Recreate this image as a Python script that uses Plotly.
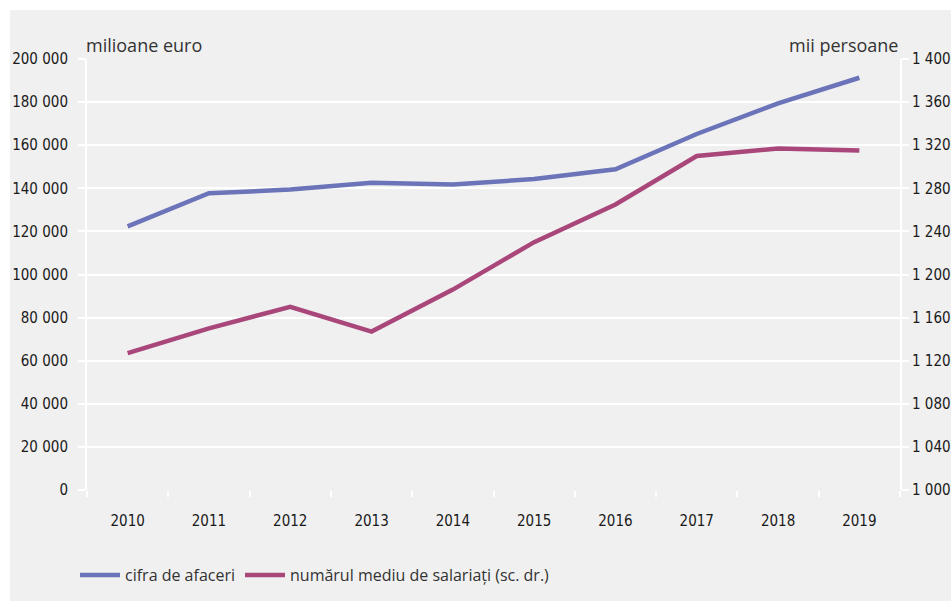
import plotly.graph_objects as go

years = ["2010", "2011", "2012", "2013", "2014", "2015", "2016", "2017", "2018", "2019"]
cifra_afaceri = [122300, 137700, 139400, 142600, 141800, 144300, 148800, 165200, 179400, 191300]
numar_salariati = [1127, 1150, 1170, 1147, 1186, 1230, 1265, 1310, 1317, 1315]

left_ticks = [0, 20000, 40000, 60000, 80000, 100000, 120000, 140000, 160000, 180000, 200000]
right_ticks = [1000, 1040, 1080, 1120, 1160, 1200, 1240, 1280, 1320, 1360, 1400]

W, H = 951, 601
L, R, T, B = 87, 51, 59, 111
pw, ph = W - L - R, H - T - B

def px(x):
    return (x - L) / pw

def py(y):
    return (H - B - y) / ph

tick_font = dict(family="DejaVu Sans Condensed, Liberation Sans Narrow, Roboto Condensed, sans-serif", size=15, color="#1a1a1a")
text_font = dict(family="Open Sans, Noto Sans, sans-serif", size=18, color="#333333")

fig = go.Figure()
fig.add_trace(go.Scatter(x=years, y=cifra_afaceri, mode="lines", name="cifra de afaceri",
                         line=dict(color="#6b73b9", width=4.5)))
fig.add_trace(go.Scatter(x=years, y=numar_salariati, mode="lines", name="numărul mediu de salariați (sc. dr.)",
                         line=dict(color="#a9477b", width=4.5), yaxis="y2"))

fig.update_layout(
    width=W, height=H,
    margin=dict(l=L, r=R, t=T, b=B, autoexpand=False),
    paper_bgcolor="white",
    plot_bgcolor="rgba(0,0,0,0)",
    separators=", ",
    shapes=[dict(type="rect", xref="paper", yref="paper", layer="below",
                 x0=px(10), x1=px(W + 20), y0=py(H + 20), y1=py(10),
                 fillcolor="#f0f0f0", line=dict(width=0))],
    xaxis=dict(type="category", range=[-0.5, len(years) - 0.5], tickson="boundaries",
               ticks="outside", ticklen=6, automargin=False,
               tickcolor="white", tickwidth=2, showgrid=False, zeroline=False,
               showline=False, tickfont=tick_font, ticklabelstandoff=20),
    yaxis=dict(range=[0, 200000], tickvals=left_ticks, tickformat=",d", automargin=False,
               showgrid=True, gridcolor="white", gridwidth=2, zeroline=False,
               ticks="outside", ticklen=7, tickcolor="white", tickwidth=2,
               showline=True, linecolor="white", linewidth=2,
               tickfont=tick_font, ticklabelstandoff=7),
    yaxis2=dict(range=[1000, 1400], tickvals=right_ticks, tickformat=",d", automargin=False,
                overlaying="y", side="right", showgrid=False, zeroline=False,
                ticks="outside", ticklen=7, tickcolor="white", tickwidth=2,
                showline=True, linecolor="white", linewidth=2,
                tickfont=tick_font, ticklabelstandoff=0),
    legend=dict(orientation="h", x=px(75), xanchor="left", y=py(575), yanchor="middle",
                font=dict(family="Open Sans, Noto Sans, sans-serif", size=16, color="#333333"),
                bgcolor="rgba(0,0,0,0)", itemwidth=40, tracegroupgap=0),
    annotations=[
        dict(text="milioane euro", xref="paper", yref="paper", x=px(84), y=py(45),
             xanchor="left", yanchor="middle", showarrow=False, font=text_font),
        dict(text="mii persoane", xref="paper", yref="paper", x=px(900), y=py(45),
             xanchor="right", yanchor="middle", showarrow=False, font=text_font),
    ],
)

fig.write_html("out.html", config={"displayModeBar": False},
               post_script="document.body.style.margin='0';document.body.style.overflow='hidden';")
